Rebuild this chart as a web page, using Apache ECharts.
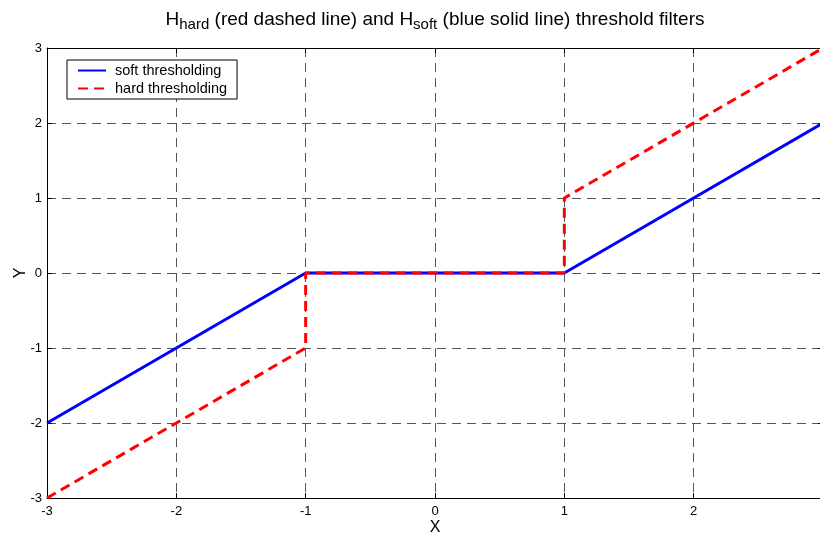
<!DOCTYPE html>
<html>
<head>
<meta charset="utf-8">
<script src="https://cdn.jsdelivr.net/npm/echarts@6/dist/echarts.min.js"></script>
<style>html,body{margin:0;padding:0;background:#fff;}#c{width:820px;height:534px;}</style>
</head>
<body>
<div id="c"></div>
<script>
var softX = [-3, -1, 1, 3];
var softY = [-2, 0, 0, 2];
var hardX = [-3, -1, -1, 1, 1, 3];
var hardY = [-3, -1, 0, 0, 1, 3];
var xTicks = [-3, -2, -1, 0, 1, 2, 3];
var yTicks = [-3, -2, -1, 0, 1, 2, 3];

function pairs(xs, ys) { return xs.map(function (x, i) { return [x, ys[i]]; }); }

var FONT = '"Liberation Sans", Arial, sans-serif';
var chart = echarts.init(document.getElementById('c'), null, { renderer: 'canvas' });

var axisCommon = {
  type: 'value', min: -3, max: 3, interval: 1,
  axisLine: { show: true, onZero: false, lineStyle: { color: '#000', width: 1 } },
  axisTick: { show: true, inside: true, length: 5, lineStyle: { color: '#000', width: 1 } }
};

chart.setOption({
  animation: false,
  backgroundColor: '#fff',
  title: {
    text: '{n|H}{s|hard}{n| (red dashed line) and H}{s|soft}{n| (blue solid line) threshold filters}',
    left: 435, top: 10, textAlign: 'center', padding: 0,
    textStyle: {
      fontWeight: 'normal',
      rich: {
        n: { fontFamily: FONT, fontSize: 19, fontWeight: 'normal', color: '#000', verticalAlign: 'top', lineHeight: 22 },
        s: { fontFamily: FONT, fontSize: 15, fontWeight: 'normal', color: '#000', verticalAlign: 'bottom', lineHeight: 15, padding: [13, 0, 0, 0] }
      }
    }
  },
  legend: {
    orient: 'vertical', left: 67, top: 60,
    padding: [3, 10, 3, 10],
    itemWidth: 28, itemHeight: 12, itemGap: 3,
    borderColor: '#000', borderWidth: 1, backgroundColor: '#fff',
    itemStyle: { opacity: 0 },
    textStyle: { fontFamily: FONT, fontSize: 14.5, lineHeight: 14, color: '#000', padding: [0, 0, 0, 4] },
    data: ['soft thresholding', 'hard thresholding']
  },
  grid: { left: 47, right: -3, top: 48, bottom: 36, containLabel: false, outerBoundsMode: 'none' },
  xAxis: [
    Object.assign({}, axisCommon, {
      position: 'bottom',
      name: 'X', nameLocation: 'middle', nameGap: 22, nameMoveOverlap: false,
      nameTextStyle: { fontFamily: FONT, fontSize: 16, color: '#000' },
      axisLabel: { fontFamily: FONT, fontSize: 13, color: '#000', margin: 7,
        customValues: xTicks.slice(0, 6) },
      splitLine: { show: true, lineStyle: { color: '#555', width: 1, type: [9, 6] } }
    }),
    Object.assign({}, axisCommon, {
      position: 'top',
      axisLabel: { show: false },
      splitLine: { show: false }
    })
  ],
  yAxis: [
    Object.assign({}, axisCommon, {
      position: 'left',
      name: 'Y', nameLocation: 'middle', nameGap: 18, nameRotate: 90, nameMoveOverlap: false,
      nameTextStyle: { fontFamily: FONT, fontSize: 16, color: '#000' },
      axisLabel: { fontFamily: FONT, fontSize: 13, color: '#000', margin: 5 },
      splitLine: { show: true, lineStyle: { color: '#555', width: 1, type: [9, 6] } }
    }),
    Object.assign({}, axisCommon, {
      position: 'right',
      axisLabel: { show: false },
      splitLine: { show: false }
    })
  ],
  series: [
    {
      name: 'soft thresholding', type: 'line', xAxisIndex: 0, yAxisIndex: 0,
      data: pairs(softX, softY), symbol: 'none', showSymbol: false,
      lineStyle: { color: '#0000ff', width: 3 }, itemStyle: { color: '#0000ff' },
      clip: false, z: 3
    },
    {
      name: 'hard thresholding', type: 'line', xAxisIndex: 0, yAxisIndex: 0,
      data: pairs(hardX, hardY), symbol: 'none', showSymbol: false,
      lineStyle: { color: '#ff0000', width: 3, type: [10, 6] }, itemStyle: { color: '#ff0000' },
      clip: false, z: 4
    }
  ]
});
</script>
</body>
</html>
